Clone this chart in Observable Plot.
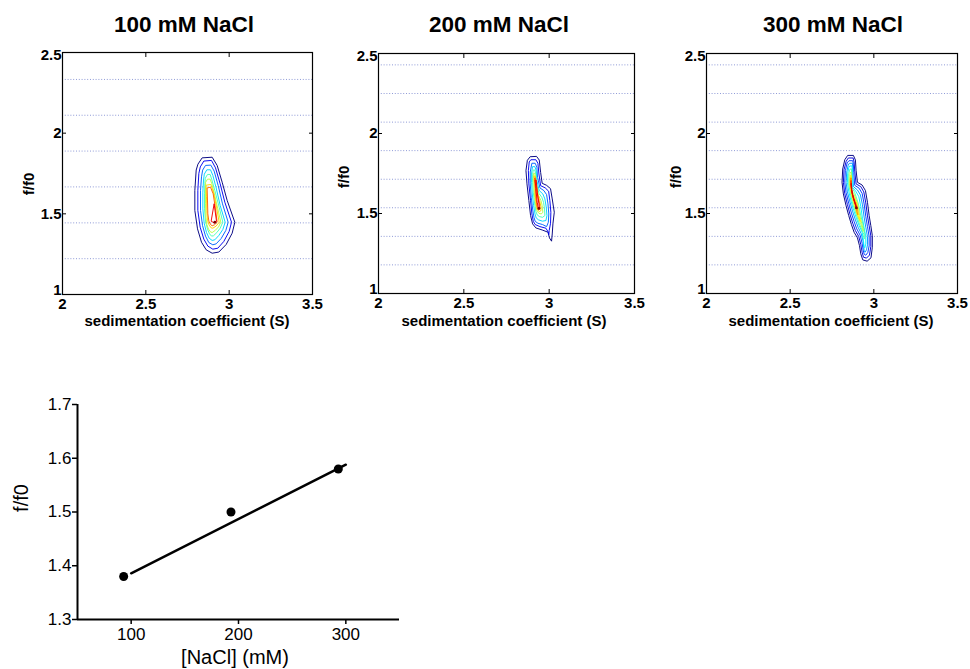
<!DOCTYPE html>
<html><head><meta charset="utf-8">
<script src="https://cdn.jsdelivr.net/npm/d3@7"></script>
<script src="https://cdn.jsdelivr.net/npm/@observablehq/plot@0.6"></script>
<style>
body{margin:0;background:#fff;}
#root{position:relative;width:970px;height:669px;font-family:"Liberation Sans",Arial,Helvetica,sans-serif;color:#000;overflow:hidden;background:#fff;}
.abs{position:absolute;white-space:nowrap;line-height:1;}
.title{font-weight:bold;font-size:22.5px;transform:translate(-50%,-50%);}
.xl{font-weight:bold;font-size:15px;transform:translate(-50%,-50%);}
.yl{font-weight:bold;font-size:15px;transform:translate(-50%,-50%) rotate(-90deg);}
.xl2{font-size:20px;transform:translate(-50%,-50%);}
.yl2{font-size:20px;transform:translate(-50%,-50%) rotate(-90deg);}
svg{display:block;}
</style></head>
<body><div id="root"></div>
<script>
// ---------------- DATA ----------------
const panelTitles = ["100 mM NaCl", "200 mM NaCl", "300 mM NaCl"];
const sLabel = "sedimentation coefficient (S)";
const ffLabel = "f/f0";
const sDomain = [2, 3.5];
const ffDomain = [1, 2.5];
const sTicks = [2, 2.5, 3, 3.5];
const ffTicks = [1, 1.5, 2, 2.5];
const gridLevels1 = [1.222, 1.444, 1.667, 1.889, 2.111, 2.333];
const gridLevels23 = [1.179, 1.357, 1.536, 1.714, 1.893, 2.071, 2.25, 2.429];

// contour rings (s, f/f0), outermost (lowest level) first
const p1Rings = [
 [[2.814,1.810],[2.838,1.847],[2.898,1.851],[2.928,1.800],[2.958,1.696],[2.988,1.583],[3.034,1.448],[3.018,1.380],[2.982,1.310],[2.938,1.263],[2.898,1.256],[2.862,1.277],[2.834,1.324],[2.810,1.407],[2.794,1.521],[2.794,1.645],[2.802,1.769]],
 [[2.828,1.793],[2.848,1.827],[2.894,1.831],[2.918,1.785],[2.946,1.686],[2.974,1.572],[3.014,1.448],[3.000,1.391],[2.968,1.329],[2.932,1.287],[2.902,1.281],[2.872,1.300],[2.848,1.343],[2.826,1.417],[2.812,1.521],[2.812,1.645],[2.818,1.748]],
 [[2.842,1.773],[2.858,1.800],[2.890,1.802],[2.910,1.765],[2.934,1.676],[2.960,1.562],[2.994,1.448],[2.980,1.397],[2.952,1.347],[2.922,1.314],[2.902,1.308],[2.878,1.322],[2.858,1.362],[2.840,1.428],[2.828,1.521],[2.828,1.645],[2.834,1.727]],
 [[2.852,1.748],[2.866,1.773],[2.888,1.773],[2.902,1.738],[2.922,1.661],[2.946,1.552],[2.976,1.448],[2.962,1.403],[2.938,1.366],[2.914,1.339],[2.898,1.335],[2.880,1.349],[2.864,1.384],[2.850,1.442],[2.842,1.531],[2.842,1.634],[2.846,1.707]],
 [[2.858,1.723],[2.870,1.744],[2.886,1.744],[2.896,1.711],[2.914,1.645],[2.940,1.541],[2.962,1.448],[2.946,1.411],[2.926,1.384],[2.906,1.364],[2.894,1.362],[2.882,1.376],[2.870,1.405],[2.858,1.455],[2.852,1.531],[2.852,1.624],[2.854,1.686]],
 [[2.860,1.698],[2.870,1.715],[2.886,1.715],[2.896,1.686],[2.910,1.628],[2.932,1.531],[2.950,1.448],[2.936,1.419],[2.916,1.397],[2.898,1.384],[2.888,1.388],[2.876,1.405],[2.866,1.434],[2.860,1.479],[2.858,1.562],[2.858,1.645]],
 [[2.864,1.678],[2.890,1.682],[2.906,1.634],[2.924,1.541],[2.940,1.448],[2.922,1.424],[2.902,1.411],[2.892,1.413],[2.880,1.430],[2.870,1.459],[2.866,1.521],[2.864,1.603]],
 [[2.870,1.661],[2.888,1.665],[2.904,1.624],[2.918,1.531],[2.928,1.448],[2.912,1.432],[2.898,1.426],[2.888,1.434],[2.878,1.455],[2.872,1.500],[2.870,1.583]],
 [[2.910,1.560],[2.924,1.455],[2.914,1.442],[2.894,1.453]]
];
const p1Peak = [2.914, 1.448];

const p2Rings = [
 [[2.891,1.855],[2.926,1.857],[2.942,1.834],[2.950,1.757],[2.959,1.689],[2.985,1.676],[3.008,1.655],[3.018,1.591],[3.030,1.508],[3.022,1.435],[3.018,1.372],[3.014,1.327],[3.002,1.347],[2.993,1.383],[2.959,1.397],[2.922,1.410],[2.903,1.435],[2.891,1.487],[2.881,1.581],[2.870,1.685],[2.864,1.768],[2.872,1.830]],
 [[2.895,1.836],[2.922,1.836],[2.934,1.814],[2.940,1.747],[2.950,1.674],[2.977,1.660],[2.997,1.639],[3.004,1.581],[3.010,1.508],[3.008,1.439],[3.000,1.393],[2.998,1.368],[2.995,1.383],[2.981,1.408],[2.946,1.418],[2.918,1.431],[2.907,1.451],[2.899,1.497],[2.891,1.580],[2.881,1.685],[2.878,1.768],[2.883,1.820]],
 [[2.901,1.814],[2.918,1.814],[2.928,1.789],[2.932,1.726],[2.946,1.660],[2.969,1.643],[2.985,1.618],[2.993,1.560],[2.998,1.497],[2.995,1.445],[2.985,1.418],[2.961,1.431],[2.934,1.439],[2.918,1.451],[2.911,1.476],[2.903,1.528],[2.895,1.601],[2.889,1.685],[2.889,1.757]],
 [[2.905,1.793],[2.916,1.793],[2.924,1.768],[2.928,1.705],[2.942,1.643],[2.963,1.622],[2.975,1.591],[2.983,1.539],[2.987,1.487],[2.981,1.456],[2.961,1.452],[2.938,1.460],[2.924,1.472],[2.917,1.497],[2.909,1.549],[2.901,1.622],[2.897,1.695],[2.897,1.751]],
 [[2.909,1.772],[2.916,1.772],[2.922,1.743],[2.926,1.685],[2.940,1.626],[2.957,1.601],[2.967,1.570],[2.973,1.528],[2.975,1.487],[2.961,1.476],[2.942,1.481],[2.930,1.491],[2.922,1.514],[2.915,1.560],[2.907,1.633],[2.903,1.695],[2.903,1.743]],
 [[2.911,1.751],[2.916,1.751],[2.920,1.722],[2.926,1.664],[2.938,1.612],[2.952,1.581],[2.959,1.549],[2.963,1.508],[2.954,1.497],[2.940,1.501],[2.930,1.514],[2.922,1.543],[2.915,1.601],[2.911,1.664],[2.909,1.716]],
 [[2.913,1.734],[2.918,1.734],[2.924,1.685],[2.932,1.622],[2.944,1.581],[2.952,1.543],[2.952,1.518],[2.942,1.512],[2.932,1.522],[2.924,1.560],[2.918,1.622],[2.915,1.685]],
 [[2.916,1.722],[2.920,1.722],[2.926,1.664],[2.934,1.601],[2.944,1.560],[2.946,1.529],[2.938,1.522],[2.930,1.539],[2.924,1.591],[2.920,1.653]],
 [[2.920,1.709],[2.924,1.709],[2.930,1.633],[2.940,1.560],[2.942,1.535],[2.936,1.535],[2.930,1.570],[2.924,1.633]]
];
const p2Peak = [2.940, 1.532];

const p3Rings = [
 [[2.846,1.863],[2.878,1.863],[2.890,1.834],[2.894,1.768],[2.902,1.695],[2.930,1.678],[2.950,1.643],[2.962,1.570],[2.972,1.487],[2.982,1.424],[2.991,1.362],[2.991,1.289],[2.983,1.223],[2.960,1.202],[2.934,1.210],[2.922,1.248],[2.914,1.300],[2.902,1.348],[2.882,1.383],[2.866,1.431],[2.850,1.487],[2.834,1.549],[2.818,1.622],[2.810,1.695],[2.814,1.778],[2.826,1.834]],
 [[2.850,1.847],[2.876,1.847],[2.882,1.822],[2.886,1.764],[2.894,1.685],[2.922,1.668],[2.940,1.635],[2.952,1.566],[2.962,1.485],[2.972,1.423],[2.982,1.360],[2.982,1.294],[2.974,1.240],[2.956,1.221],[2.938,1.227],[2.930,1.258],[2.922,1.306],[2.910,1.356],[2.890,1.393],[2.874,1.439],[2.858,1.493],[2.842,1.556],[2.826,1.626],[2.818,1.695],[2.822,1.774],[2.834,1.824]],
 [[2.854,1.830],[2.874,1.830],[2.878,1.805],[2.880,1.757],[2.886,1.676],[2.912,1.658],[2.930,1.626],[2.942,1.560],[2.952,1.481],[2.962,1.418],[2.972,1.356],[2.972,1.298],[2.964,1.256],[2.952,1.239],[2.942,1.246],[2.936,1.273],[2.930,1.314],[2.918,1.364],[2.898,1.404],[2.882,1.450],[2.866,1.502],[2.850,1.564],[2.834,1.631],[2.826,1.695],[2.830,1.768],[2.840,1.814]],
 [[2.856,1.814],[2.872,1.814],[2.874,1.789],[2.874,1.747],[2.878,1.668],[2.902,1.647],[2.920,1.616],[2.932,1.554],[2.942,1.477],[2.952,1.414],[2.962,1.356],[2.962,1.304],[2.956,1.273],[2.948,1.258],[2.942,1.264],[2.940,1.289],[2.936,1.327],[2.924,1.375],[2.906,1.414],[2.890,1.460],[2.874,1.510],[2.858,1.570],[2.842,1.635],[2.834,1.695],[2.838,1.759],[2.846,1.799]],
 [[2.858,1.797],[2.870,1.797],[2.870,1.747],[2.872,1.664],[2.892,1.639],[2.910,1.606],[2.922,1.545],[2.932,1.470],[2.942,1.410],[2.952,1.356],[2.952,1.310],[2.946,1.285],[2.942,1.289],[2.938,1.331],[2.930,1.383],[2.912,1.425],[2.896,1.470],[2.880,1.518],[2.864,1.577],[2.850,1.639],[2.842,1.695],[2.844,1.751],[2.850,1.784]],
 [[2.860,1.778],[2.867,1.778],[2.868,1.665],[2.886,1.630],[2.908,1.560],[2.920,1.497],[2.934,1.435],[2.946,1.373],[2.946,1.345],[2.942,1.340],[2.940,1.370],[2.914,1.435],[2.894,1.497],[2.874,1.560],[2.860,1.622],[2.850,1.685],[2.850,1.747]],
 [[2.860,1.757],[2.865,1.757],[2.866,1.650],[2.884,1.615],[2.904,1.560],[2.914,1.497],[2.928,1.435],[2.938,1.395],[2.937,1.388],[2.922,1.435],[2.898,1.497],[2.880,1.560],[2.864,1.622],[2.854,1.685],[2.856,1.730]],
 [[2.862,1.737],[2.865,1.737],[2.865,1.640],[2.880,1.610],[2.900,1.560],[2.908,1.497],[2.918,1.458],[2.921,1.450],[2.917,1.456],[2.901,1.497],[2.884,1.560],[2.867,1.622],[2.858,1.685],[2.860,1.716]],
 [[2.863,1.722],[2.866,1.722],[2.866,1.640],[2.878,1.600],[2.896,1.560],[2.904,1.515],[2.904,1.492],[2.900,1.505],[2.888,1.560],[2.870,1.622],[2.861,1.685]],
 [[2.864,1.705],[2.866,1.705],[2.867,1.640],[2.878,1.592],[2.893,1.552],[2.898,1.533],[2.896,1.530],[2.891,1.550],[2.874,1.610],[2.865,1.660]],
 [[2.865,1.688],[2.866,1.688],[2.870,1.630],[2.882,1.580],[2.894,1.548],[2.896,1.537],[2.893,1.541],[2.888,1.565],[2.876,1.610],[2.867,1.650]]
];
const p3Peak = [2.896, 1.535];
const contourLevelCounts = [10, 10, 12];

// bottom chart
const naclConc = [93, 193, 293];
const ffRatio = [1.38, 1.50, 1.58];
const fitConc = [100, 300];
const fitRatio = [1.386, 1.588];
const naclDomain = [50, 350];
const ratioDomain = [1.3, 1.7];
const naclTicks = [100, 200, 300];
const ratioTicks = [1.3, 1.4, 1.5, 1.6, 1.7];
const naclLabel = "[NaCl] (mM)";

// ---------------- DRAWING ----------------
const FONT = '"Liberation Sans", Arial, Helvetica, sans-serif';
const root = document.getElementById("root");
const fmt = d => String(d);

function jet(t) {
  const c = x => Math.max(0, Math.min(1, x));
  const r = c(1.5 - Math.abs(4 * t - 3)), g = c(1.5 - Math.abs(4 * t - 2)), b = c(1.5 - Math.abs(4 * t - 1));
  return d3.rgb(r * 255, g * 255, b * 255).formatHex();
}

function place(el, left, top) {
  const d = document.createElement("div");
  d.className = "abs";
  d.style.left = left + "px"; d.style.top = top + "px";
  d.appendChild(el);
  root.appendChild(d);
}
function label(text, x, y, cls) {
  const d = document.createElement("div");
  d.className = "abs " + cls;
  d.style.left = x + "px"; d.style.top = y + "px";
  d.textContent = text;
  root.appendChild(d);
}

const panelLayout = [
  {left: 0,   width: 325, ml: 62, mr: 13, mt: 52, mb: 46, title: [184, 25], xl: [187, 320], yl: [28, 184]},
  {left: 330, width: 320, ml: 48, mr: 16, mt: 53, mb: 47, title: [499, 25], xl: [504, 320], yl: [343, 177]},
  {left: 650, width: 320, ml: 56, mr: 13, mt: 53, mb: 47, title: [833, 25], xl: [831, 320], yl: [675, 177]}
];
const panelData = [
  {rings: p1Rings, peak: p1Peak, grid: gridLevels1},
  {rings: p2Rings, peak: p2Peak, grid: gridLevels23},
  {rings: p3Rings, peak: p3Peak, grid: gridLevels23}
];

panelData.forEach((p, k) => {
  const L = panelLayout[k];
  const n = contourLevelCounts[k];
  const flat = p.rings.flatMap((ring, i) => ring.map(([s, f]) => ({s, f, ring: i, color: jet(i / (n - 1))})));
  const yLo = ffTicks.slice(0, 1), yMid = ffTicks.slice(1, -1), yHi = ffTicks.slice(-1);
  const chart = Plot.plot({
    width: L.width, height: 340,
    marginLeft: L.ml, marginRight: L.mr, marginTop: L.mt, marginBottom: L.mb,
    x: {domain: sDomain},
    y: {domain: ffDomain},
    color: {type: "identity"},
    style: {fontFamily: FONT, fontSize: "15px", fontWeight: "bold", color: "#000", background: "transparent", overflow: "visible"},
    marks: [
      Plot.ruleY(p.grid, {stroke: "#7d8ad0", strokeOpacity: 0.85, strokeDasharray: "1,1.8", strokeWidth: 1}),
      Plot.line(flat, {x: "s", y: "f", z: "ring", stroke: "color", strokeWidth: 0.95, curve: "linear-closed"}),
      Plot.dot([p.peak], {x: d => d[0], y: d => d[1], r: 1.4, fill: jet(1)}),
      Plot.frame({stroke: "#000", strokeWidth: 1.2}),
      // inward ticks on all four sides
      Plot.axisX(sTicks, {anchor: "bottom", tickSize: -4, tickFormat: () => "", label: null}),
      Plot.axisX(sTicks, {anchor: "top", tickSize: -4, tickFormat: () => "", label: null}),
      Plot.axisY(ffTicks, {anchor: "left", tickSize: -4, tickFormat: () => "", label: null}),
      Plot.axisY(ffTicks, {anchor: "right", tickSize: -4, tickFormat: () => "", label: null}),
      // tick labels
      Plot.axisX(sTicks, {anchor: "bottom", tickSize: 0, tickPadding: 4, tickFormat: fmt, label: null}),
      Plot.axisY(yMid, {anchor: "left", tickSize: 0, tickPadding: 1, tickFormat: fmt, label: null}),
      Plot.axisY(yLo, {anchor: "left", tickSize: 0, tickPadding: 1, dy: -4, tickFormat: fmt, label: null}),
      Plot.axisY(yHi, {anchor: "left", tickSize: 0, tickPadding: 1, dy: 3, tickFormat: fmt, label: null})
    ]
  });
  place(chart, L.left, 0);
  label(panelTitles[k], L.title[0], L.title[1], "title");
  label(sLabel, L.xl[0], L.xl[1], "xl");
  label(ffLabel, L.yl[0], L.yl[1], "yl");
});

// bottom scatter with linear fit
const pts = naclConc.map((c, i) => ({c, r: ffRatio[i]}));
const fit = fitConc.map((c, i) => ({c, r: fitRatio[i]}));
const bottom = Plot.plot({
  width: 420, height: 279,
  marginLeft: 77, marginRight: 21, marginTop: 14, marginBottom: 50,
  x: {domain: naclDomain},
  y: {domain: ratioDomain},
  style: {fontFamily: FONT, fontSize: "17px", color: "#000", background: "transparent", overflow: "visible"},
  marks: [
    Plot.ruleX([naclDomain[0]], {stroke: "#000", strokeWidth: 2}),
    Plot.ruleY([ratioDomain[0]], {stroke: "#000", strokeWidth: 2}),
    Plot.axisX(naclTicks, {anchor: "bottom", tickSize: 5, tickPadding: 3, strokeWidth: 1.5, tickFormat: fmt, label: null}),
    Plot.axisY(ratioTicks, {anchor: "left", tickSize: 5, tickPadding: 1, strokeWidth: 1.5, tickFormat: fmt, label: null}),
    Plot.line(fit, {x: "c", y: "r", stroke: "#000", strokeWidth: 2.5}),
    Plot.dot(pts, {x: "c", y: "r", r: 4.5, fill: "#000"})
  ]
});
place(bottom, 0, 390);
label(naclLabel, 235, 657, "xl2");
label(ffLabel, 21, 498, "yl2");
</script>
</body></html>
